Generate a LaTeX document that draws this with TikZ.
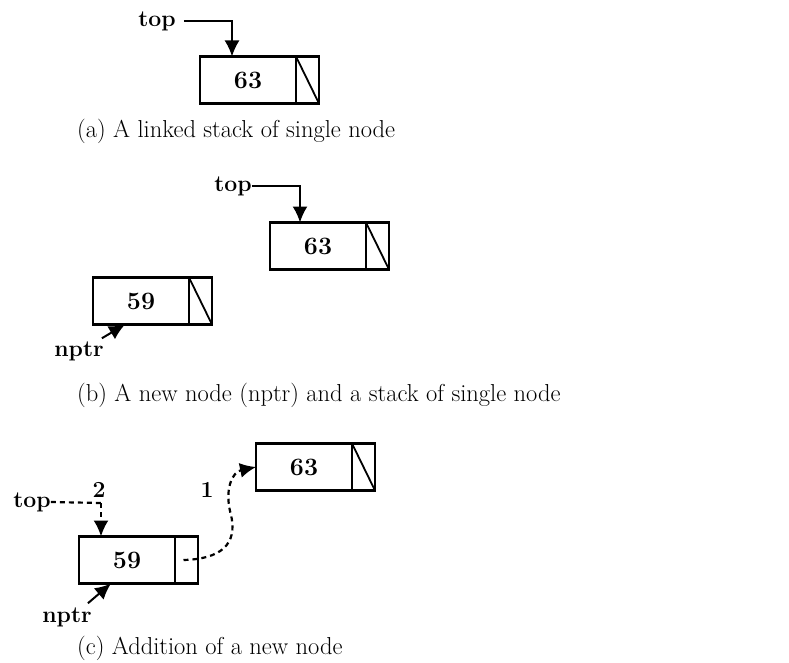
\documentclass[tikz,border=0pt]{standalone}
\usetikzlibrary{arrows.meta}
\begin{document}
\begin{tikzpicture}[x=1pt,y=-1pt,
  databox/.style={draw,line width=2.2pt,outer sep=0pt,minimum width=96pt,minimum height=47pt,inner sep=0pt,font=\fontsize{25}{25}\selectfont\bfseries},
  ptrbox/.style={draw,line width=2.2pt,outer sep=0pt,minimum width=23pt,minimum height=47pt,inner sep=0pt},
  lbl/.style={font=\fontsize{23}{23}\selectfont\bfseries,inner sep=0pt},
  captext/.style={font=\fontsize{24.5}{24.5}\selectfont,inner sep=0pt,anchor=west},
  arr/.style={line width=2pt,-{Latex[length=16pt,width=15pt]}},
  darr/.style={line width=2.2pt,dash pattern=on 5pt off 4pt,-{Latex[length=16pt,width=15pt]}}]
\useasboundingbox (0,0) rectangle (789,663);
% (a)
\node[databox] (a63) at (248,80) {63};
\node[ptrbox,anchor=west] (a63p) at (a63.east) {};
\draw[line width=1.8pt] (a63p.north west) -- (a63p.south east);
\node[lbl] (atop) at (157,21) {top};
\draw[arr] ([xshift=8pt]atop.east) -| ([xshift=-16pt]a63.north);
\node[captext] (capa) at (77,131) {(a) A linked stack of single node};
% (b)
\node[databox] (b63) at (318,246) {63};
\node[ptrbox,anchor=west] (b63p) at (b63.east) {};
\draw[line width=1.8pt] (b63p.north west) -- (b63p.south east);
\node[lbl] (btop) at (233,186) {top};
\draw[arr] (btop.east) -| ([xshift=-18pt]b63.north);
\node[databox] (b59) at (141,301) {59};
\node[ptrbox,anchor=west] (b59p) at (b59.east) {};
\draw[line width=1.8pt] (b59p.north west) -- (b59p.south east);
\node[lbl] (bnptr) at (79,351) {nptr};
\draw[arr] ([xshift=-2pt,yshift=3pt]bnptr.north east) -- ([xshift=-16pt]b59.south);
\node[captext] (capb) at (77,395) {(b) A new node (nptr) and a stack of single node};
% (c)
\node[databox] (c63) at (304,467) {63};
\node[ptrbox,anchor=west] (c63p) at (c63.east) {};
\draw[line width=1.8pt] (c63p.north west) -- (c63p.south east);
\node[databox] (c59) at (127,560) {59};
\node[ptrbox,anchor=west] (c59p) at (c59.east) {};
\node[lbl] (ctop) at (32,502) {top};
\node[lbl] (ctwo) at (99,490) {2};
\coordinate (ccorner) at (101,503);
\draw[line width=2.2pt,dash pattern=on 5pt off 4pt] (ctop.east) -- (ccorner);
\draw[darr] (ccorner) -- ([xshift=-26pt]c59.north);
\node[lbl] (cone) at (207,490) {1};
\draw[darr] ([xshift=-3pt]c59p.center) .. controls (220,559) and (238,545) .. (231,515)
  .. controls (224,490) and (232,472) .. (c63.west);
\node[lbl] (cnptr) at (67,617) {nptr};
\draw[arr] ([xshift=-4pt,yshift=4pt]cnptr.north east) -- ([xshift=-16pt]c59.south);
\node[captext] (capc) at (77,648) {(c) Addition of a new node};
\end{tikzpicture}
\end{document}
